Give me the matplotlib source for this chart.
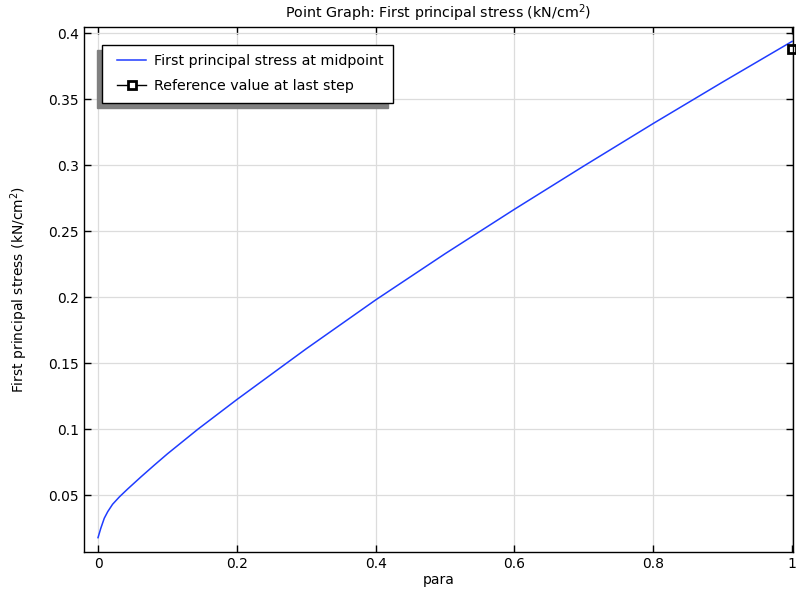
import matplotlib
matplotlib.use("Agg")
import matplotlib.pyplot as plt
from matplotlib.legend_handler import HandlerLine2D

para = [0.0, 0.004, 0.009, 0.014, 0.021, 0.031, 0.043, 0.062, 0.081, 0.1, 0.144,
        0.2, 0.3, 0.4, 0.5, 0.6, 0.7, 0.8, 0.9, 1.0]
stress = [0.0179, 0.025, 0.0326, 0.0376, 0.0432, 0.0489, 0.0549, 0.0640, 0.0728, 0.0814, 0.1001,
          0.1225, 0.161, 0.198, 0.233, 0.2667, 0.2995, 0.3317, 0.3631, 0.3939]
ref_x = [1.0]
ref_y = [0.3885]

xticks = [0, 0.2, 0.4, 0.6, 0.8, 1.0]
xticklabels = ["0", "0.2", "0.4", "0.6", "0.8", "1"]
yticks = [0.05, 0.1, 0.15, 0.2, 0.25, 0.3, 0.35, 0.4]
yticklabels = ["0.05", "0.1", "0.15", "0.2", "0.25", "0.3", "0.35", "0.4"]

fig = plt.figure(figsize=(7.96, 5.89), dpi=100)
ax = fig.add_axes([84/796, 1-552.3/589, (793-84)/796, (552.3-26.5)/589])

l1, = ax.plot(para, stress, color="#1f3cff", lw=1.1, label="First principal stress at midpoint")
l2, = ax.plot(ref_x, ref_y, color="black", lw=1.0, marker="s", markersize=5.5,
              markerfacecolor="white", markeredgecolor="black", markeredgewidth=2,
              label="Reference value at last step", clip_on=False)

ax.set_xlim(-0.0202, 1.0014)
ax.set_ylim(0.0068, 0.4052)
ax.set_xticks(xticks)
ax.set_xticklabels(xticklabels)
ax.set_yticks(yticks)
ax.set_yticklabels(yticklabels)
ax.tick_params(direction="in", top=True, right=True, length=5, width=1, labelsize=10, colors="black")
ax.grid(True, color="#dcdcdc", lw=0.9)
ax.set_axisbelow(True)
for s in ax.spines.values():
    s.set_linewidth(1.0)

ax.set_xlabel("para", fontsize=10, labelpad=1)
ax.set_ylabel("First principal stress (kN/cm$^2$)", fontsize=10, labelpad=13)
ax.set_title("Point Graph: First principal stress (kN/cm$^2$)", fontsize=10.3, pad=6)

hm = {l1: HandlerLine2D(xpad=0.42), l2: HandlerLine2D(xpad=0.42)}
leg = ax.legend(handles=[l1, l2], handler_map=hm,
                loc="upper left", bbox_to_anchor=(18/709, 1-18.5/525.8), fontsize=10.3,
                frameon=True, fancybox=False, edgecolor="black", framealpha=1,
                shadow={"color": "#808080", "alpha": 1, "ox": -3.6, "oy": -3.6},
                borderpad=0.66, handlelength=2.45, handletextpad=0.5,
                labelspacing=0.76, borderaxespad=0)
leg.get_frame().set_linewidth(1.0)

fig.savefig("out.png", dpi=100)
